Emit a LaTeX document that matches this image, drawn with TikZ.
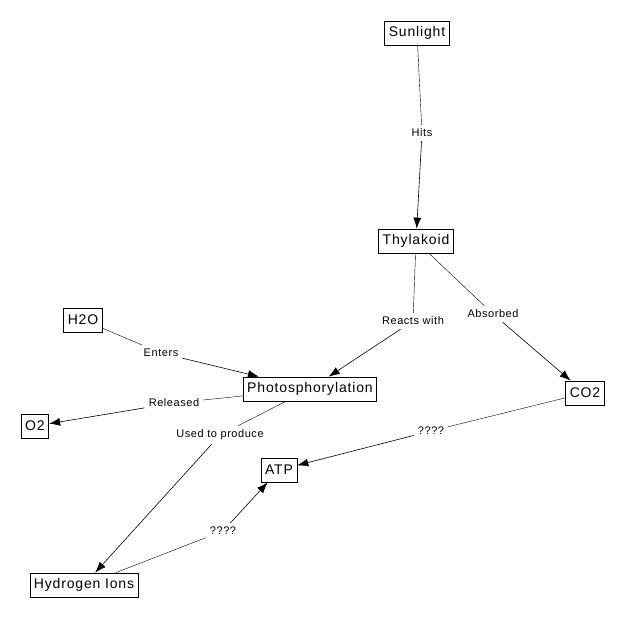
\documentclass[tikz,border=0pt]{standalone}
\usepackage{fontspec}
\setmainfont{Liberation Sans}
\usetikzlibrary{arrows.meta}
\begin{document}
\begin{tikzpicture}[x=1pt,y=-1pt]
  \tikzset{ c/.style={draw,line width=0.7pt,font=\fontsize{14}{16}\selectfont\addfontfeature{LetterSpace=6},inner xsep=4pt,minimum height=24pt},
    l/.style={font=\fontsize{11}{13}\selectfont\addfontfeature{LetterSpace=5},inner sep=4pt},
    a/.style={-{Latex[length=11pt,width=8pt]},line width=0.6pt},
  }
  \useasboundingbox (0,0) rectangle (626,618);

  \node[c] (sun) at (417,33)   {Sunlight};
  \node[c] (thy) at (416,241)  {Thylakoid};
  \node[c] (h2o) at (83,320)   {H2O};
  \node[c] (pho) at (310,389)  {Photosphorylation};
  \node[c] (co2) at (585,393)  {CO2};
  \node[c] (o2) at (35,426)    {O2};
  \node[c] (atp) at (279,470)  {ATP};
  \node[c] (hyd) at (84,585)   {Hydrogen Ions};

  \node[l] (hits) at (422,133) {Hits};
  \node[l] (rea) at (413,321)  {Reacts with};
  \node[l] (abs) at (493,314)  {Absorbed};
  \node[l] (ent) at (161,353)  {Enters};
  \node[l] (rel) at (174,403)  {Released};
  \node[l] (use) at (220,435)  {Used to produce};
  \node[l] (q1) at (431,431)   {????};
  \node[l] (q2) at (223,531)   {????};

  \draw (sun) -- (hits);  \draw[a] (hits) -- (thy);
  \draw (thy) -- (rea);  \draw[a] (rea) -- (pho);
  \draw (thy) -- (abs);  \draw[a] (abs) -- (co2);
  \draw (h2o) -- (ent);  \draw[a] (ent) -- (pho);
  \draw (pho) -- (rel);  \draw[a] (rel) -- (o2);
  \draw (pho) -- (use);  \draw[a] (use) -- (hyd);
  \draw (co2) -- (q1);   \draw[a] (q1) -- (atp);
  \draw (hyd) -- (q2);   \draw[a] (q2) -- (atp);

\end{tikzpicture}
\end{document}
